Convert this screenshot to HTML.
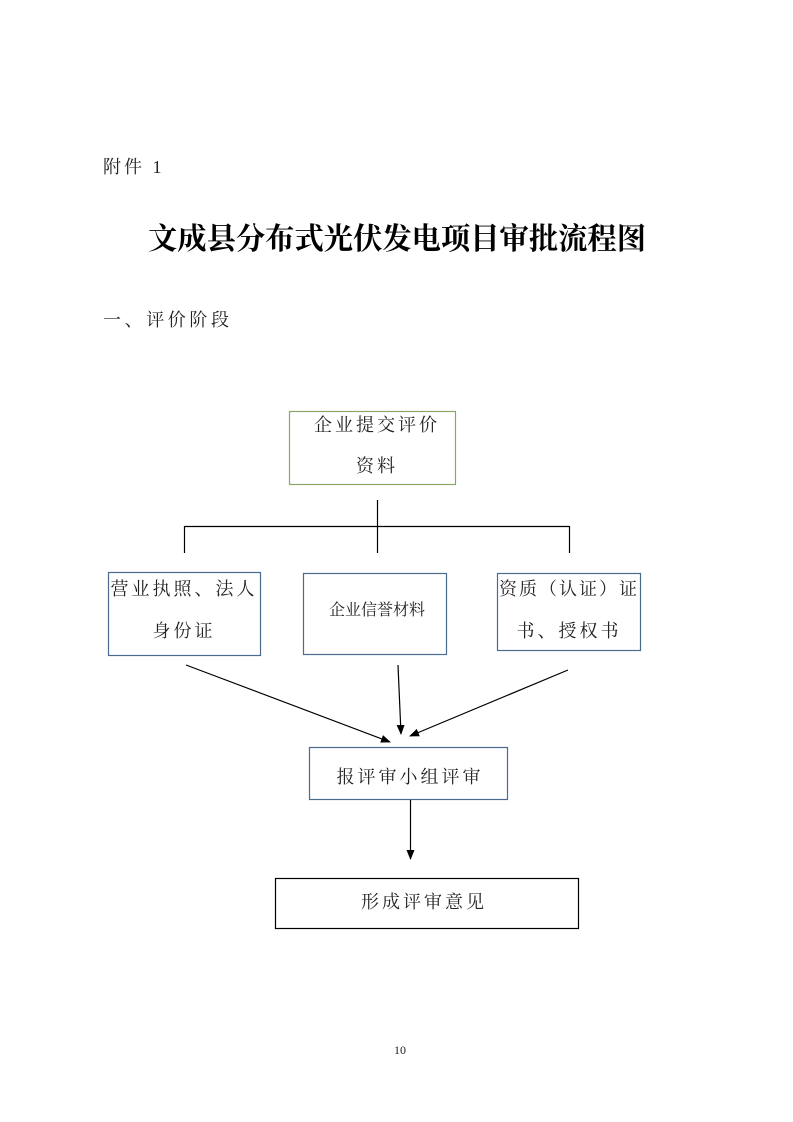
<!DOCTYPE html>
<html><head><meta charset="utf-8"><style>
html,body{margin:0;padding:0;background:#fff;}
svg{display:block;}
text{font-family:"Liberation Serif","Noto Serif CJK SC","Noto Sans CJK SC",serif;fill:#222;}
</style></head><body>
<svg width="793" height="1122" viewBox="0 0 793 1122" xmlns="http://www.w3.org/2000/svg">
<defs><marker id="a" markerWidth="10" markerHeight="10" refX="9" refY="5" orient="auto" markerUnits="userSpaceOnUse"><path d="M0,1 L10,5 L0,9 z" fill="#000"/></marker></defs>
<text x="103" y="173" font-size="18" letter-spacing="3">附件 1</text>
<text x="148" y="249" font-size="30" font-weight="bold" textLength="498" lengthAdjust="spacingAndGlyphs" style="fill:#000">文成县分布式光伏发电项目审批流程图</text>
<text x="103" y="326" font-size="18" textLength="126" lengthAdjust="spacing">一、评价阶段</text>
<rect x="289.5" y="411.5" width="166" height="73" fill="none" stroke="#8aa664" stroke-width="1.2"/>
<text x="377" y="431" font-size="18" text-anchor="middle" letter-spacing="3">企业提交评价</text>
<text x="377" y="472" font-size="18" text-anchor="middle" letter-spacing="3">资料</text>
<path d="M377.5,500V553 M184.5,526.5H569.5 M184.5,526V553 M569.5,526V553" stroke="#000" stroke-width="1.2" fill="none"/>
<rect x="108.5" y="572.5" width="152" height="83" fill="none" stroke="#4a6b8e" stroke-width="1.2"/>
<text x="184" y="595" font-size="18" text-anchor="middle" letter-spacing="3">营业执照、法人</text>
<text x="184" y="637" font-size="18" text-anchor="middle" letter-spacing="3">身份证</text>
<rect x="303.5" y="573.5" width="143" height="81" fill="none" stroke="#4a6b8e" stroke-width="1.2"/>
<text x="377" y="615" font-size="16" text-anchor="middle">企业信誉材料</text>
<rect x="497.5" y="573.5" width="143" height="77" fill="none" stroke="#4a6b8e" stroke-width="1.2"/>
<text x="569" y="595" font-size="18" text-anchor="middle" letter-spacing="2">资质（认证）证</text>
<text x="569" y="637" font-size="18" text-anchor="middle" letter-spacing="3">书、授权书</text>
<line x1="186" y1="665" x2="390" y2="742" stroke="#000" stroke-width="1.2" marker-end="url(#a)"/>
<line x1="398" y1="665" x2="401" y2="734" stroke="#000" stroke-width="1.2" marker-end="url(#a)"/>
<line x1="568" y1="670" x2="410" y2="736" stroke="#000" stroke-width="1.2" marker-end="url(#a)"/>
<rect x="309.5" y="747.5" width="198" height="52" fill="none" stroke="#4a6b8e" stroke-width="1.2"/>
<text x="410" y="783" font-size="18" text-anchor="middle" letter-spacing="3">报评审小组评审</text>
<line x1="410.5" y1="800" x2="410.5" y2="859" stroke="#000" stroke-width="1.2" marker-end="url(#a)"/>
<rect x="275.5" y="878.5" width="303" height="50" fill="none" stroke="#000" stroke-width="1.2"/>
<text x="424" y="908" font-size="18" text-anchor="middle" letter-spacing="3">形成评审意见</text>
<text x="400" y="1054" font-size="12" text-anchor="middle">10</text>
</svg>
</body></html>
